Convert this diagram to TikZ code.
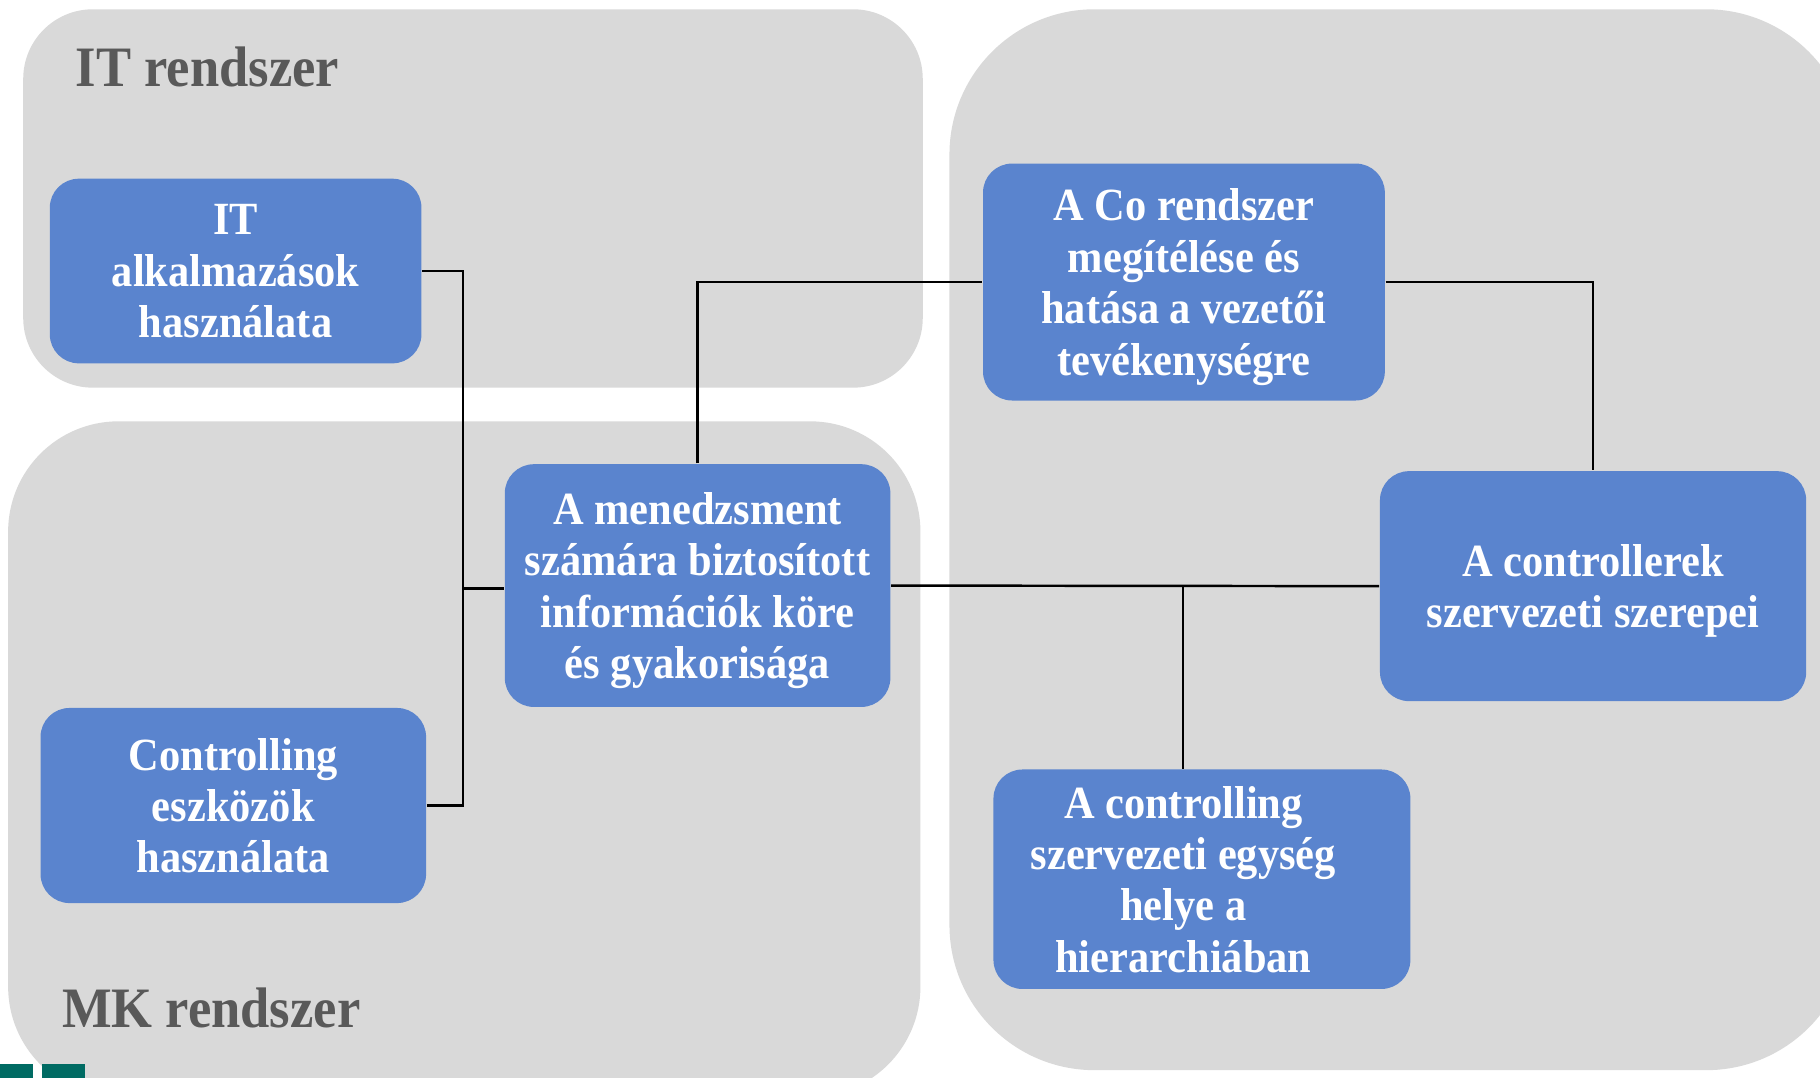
\documentclass[tikz,border=0pt]{standalone}
\usepackage{fontspec}
\setmainfont{Liberation Serif}[FakeStretch=0.92]
\usepackage{tikz}
\usetikzlibrary{positioning}
\definecolor{panelgray}{HTML}{D9D9D9}
\definecolor{boxblue}{HTML}{5A84CE}
\definecolor{titlegray}{HTML}{595959}
\definecolor{logoteal}{HTML}{006B63}
\tikzset{
  box/.style={fill=boxblue,rounded corners=0.25cm,inner sep=0pt,align=center,text depth=0pt,
    text=white,font=\fontsize{11.3}{12.6}\selectfont\bfseries},
  conn/.style={draw=black,line width=0.6pt},
  paneltitle/.style={anchor=west,text=titlegray,font=\fontsize{14}{16}\selectfont\bfseries}
}

\begin{document}
\begin{tikzpicture}[x=0.01cm,y=-0.01cm]
\useasboundingbox (0,0) rectangle (1568,928);
\fill[white] (0,0) rectangle (1568,928);
\clip (0,0) rectangle (1568,928);
% panels
\fill[panelgray,rounded corners=0.6cm] (20,8) rectangle (795,334);
\fill[panelgray,rounded corners=0.95cm] (7,363) rectangle (793,945);
\fill[panelgray,rounded corners=1.25cm] (818,8) rectangle (1595,922);
\fill[logoteal] (0,917) rectangle (28,930);
\fill[logoteal] (36,917) rectangle (73,930);
\node[paneltitle] (ittitle) at (53,58) {IT rendszer};
\node[paneltitle] (mktitle) at (41,868) {MK rendszer};
% boxes
\node[box,minimum width=3.2cm,minimum height=1.59cm] (itapp) at (203,233.5)
  {IT\\alkalmazások\\használata};
\node[box,minimum width=3.32cm,minimum height=1.68cm] (ctrl) at (201,694)
  {Controlling\\eszközök\\használata};
\node[box,minimum width=3.32cm,minimum height=2.09cm] (menedzs) at (601,504.5)
  {A menedzsment\\számára biztosított\\információk köre\\és gyakorisága};
\node[box,minimum width=3.46cm,minimum height=2.04cm] (co) at (1020,243)
  {A Co rendszer\\megítélése és\\hatása a vezetői\\tevékenységre};
\node[box,minimum width=3.67cm,minimum height=1.98cm] (controllerek) at (1372.5,505)
  {A controllerek\\szervezeti szerepei};
\node[box,minimum width=3.59cm,minimum height=1.89cm,
  label={[box,fill=none,xshift=-0.16cm]center:{A controlling\\szervezeti egység\\helye a\\hierarchiában}}]
  (egyseg) at (1035.5,757.5) {};
% connectors
\coordinate (jl) at (399,507);
\coordinate (jb) at (1019,505);
\draw[conn] (itapp.east) -- (itapp.east -| jl) -- (jl) -- (menedzs.west |- jl);
\draw[conn] (ctrl.east) -- (ctrl.east -| jl) -- (jl);
\draw[conn] (menedzs.north) |- (co.west);
\draw[conn] (co.east) -| (controllerek.north);
\draw[conn] (menedzs.east) -- (controllerek.west);
\draw[conn] (jb) -- (jb |- egyseg.north);
\end{tikzpicture}
\end{document}
